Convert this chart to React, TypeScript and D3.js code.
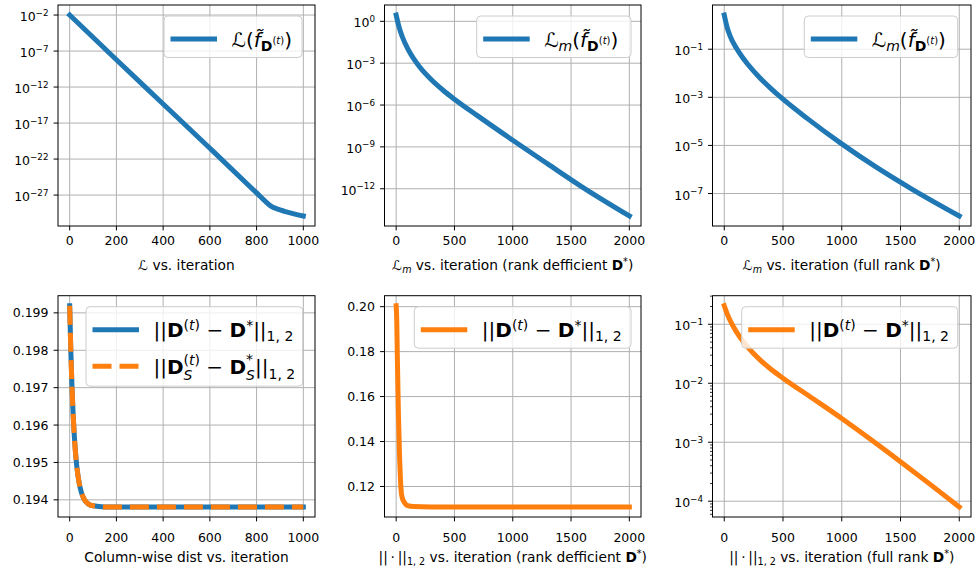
import React from 'react';
import * as d3 from 'd3';

const FONT = 'DejaVu Sans, sans-serif';
const BLUE = '#1f77b4';
const ORANGE = '#ff7f0e';

// ---------- DATA ----------
// Panel 1: L vs iteration
const p1Iter = [0, 200, 400, 600, 800, 840, 860, 870, 890, 920, 960, 1000];
const p1Loss = [1.0e-2, 6.3e-9, 4.5e-15, 3.16e-21, 2.0e-27, 1.12e-28, 3.16e-29, 2.0e-29, 1.12e-29, 5.6e-30, 2.5e-30, 1.26e-30];

// Panel 2: Lm vs iteration (rank deficient)
const p2Iter = [0, 25, 50, 100, 150, 200, 300, 400, 500, 700, 1000, 1300, 1600, 2000];
const p2Loss = [2.82, 0.38, 8.9e-2, 1.05e-2, 2.09e-3, 5.6e-4, 6.8e-5, 1.2e-5, 2.63e-6, 1.66e-7, 3.0e-9, 6.0e-11, 1.26e-12, 1.12e-14];

// Panel 3: Lm vs iteration (full rank)
const p3Iter = [0, 25, 50, 100, 150, 200, 300, 400, 500, 700, 1000, 1300, 1600, 2000];
const p3Loss = [2.63, 0.785, 0.351, 0.117, 4.95e-2, 2.37e-2, 6.7e-3, 2.26e-3, 8.4e-4, 1.4e-4, 1.16e-5, 1.19e-6, 1.5e-7, 1.17e-8];

// Panel 4: column-wise distance
const p4Iter = [0, 5, 10, 15, 20, 30, 40, 50, 60, 80, 100, 150, 1000];
const p4Dist = [0.19919, 0.19796, 0.197, 0.19626, 0.19569, 0.19492, 0.19447, 0.1942, 0.19404, 0.19389, 0.19384, 0.19381, 0.19381];
const p4DistS = [0.19919, 0.19796, 0.197, 0.19626, 0.19569, 0.19492, 0.19447, 0.1942, 0.19404, 0.19389, 0.19384, 0.19381, 0.19381];

// Panel 5: ||.||_{1,2} (rank deficient)
const p5Iter = [0, 5, 10, 15, 20, 30, 37, 45, 55, 66, 80, 100, 150, 300, 2000];
const p5Dist = [0.2004, 0.194, 0.178, 0.164, 0.151, 0.132, 0.123, 0.117, 0.1145, 0.1133, 0.1122, 0.1115, 0.1111, 0.1109, 0.1109];

// Panel 6: ||.||_{1,2} (full rank)
const p6Iter = [0, 25, 50, 100, 150, 200, 300, 400, 500, 750, 1000, 1250, 1500, 1750, 2000];
const p6Dist = [0.206, 0.150, 0.116, 7.66e-2, 5.48e-2, 4.11e-2, 2.54e-2, 1.71e-2, 1.22e-2, 5.57e-3, 2.53e-3, 1.105e-3, 4.69e-4, 1.95e-4, 8.0e-5];

// Tick values
const xTicks1000 = [0, 200, 400, 600, 800, 1000];
const xTicks2000 = [0, 500, 1000, 1500, 2000];
const p1YTicks = [-2, -7, -12, -17, -22, -27];
const p2YTicks = [0, -3, -6, -9, -12];
const p3YTicks = [-1, -3, -5, -7];
const p4YTicks = [0.194, 0.195, 0.196, 0.197, 0.198, 0.199];
const p5YTicks = [0.12, 0.14, 0.16, 0.18, 0.2];
const p6YTicks = [-1, -2, -3, -4];

// ---------- LAYOUT ----------
const COLS = [
  { x0: 58, x1: 315 },
  { x0: 384.5, x1: 641 },
  { x0: 712.5, x1: 971 },
];
const ROWS = [
  { y0: 5, y1: 226, tickBase: 244.5, labelBase: 270 },
  { y0: 295.7, y1: 517, tickBase: 541.5, labelBase: 561.5 },
];

type Seg = { t: string; size?: number; off?: number; b?: boolean; i?: boolean; dx?: number };

function Rich({ x, y, anchor, segs, size }: { x: number; y: number; anchor: string; segs: Seg[]; size: number }) {
  let prev = 0;
  return (
    <text x={x} y={y} textAnchor={anchor as any} fontFamily={FONT} fontSize={size} fill="#000" style={{ whiteSpace: 'pre' }}>
      {segs.map((s, k) => {
        const off = s.off ?? 0;
        const dy = off - prev;
        prev = off;
        return (
          <tspan key={k} dy={dy} dx={s.dx ?? 0} fontSize={s.size ?? size} fontWeight={s.b ? 'bold' : 'normal'} fontStyle={s.i ? 'italic' : 'normal'}>
            {s.t}
          </tspan>
        );
      })}
    </text>
  );
}

const LG = 20; // legend font
const LS = 14; // legend sub/sup
const LSS = 10; // second-level script

const legL: Seg[] = [
  { t: 'ℒ' }, { t: '(' }, { t: 'f\u0303', i: true },
  { t: 'D', b: true, size: LS, off: 4 }, { t: '(', size: LSS, off: -3 }, { t: 't', i: true, size: LSS, off: -3 }, { t: ')', size: LSS, off: -3 },
  { t: ')', off: 0 },
];
const legLm: Seg[] = [
  { t: 'ℒ' }, { t: 'm', i: true, size: LS, off: 4 }, { t: '(', off: 0 }, { t: 'f\u0303', i: true },
  { t: 'D', b: true, size: LS, off: 4 }, { t: '(', size: LSS, off: -3 }, { t: 't', i: true, size: LSS, off: -3 }, { t: ')', size: LSS, off: -3 },
  { t: ')', off: 0 },
];
const legD: Seg[] = [
  { t: '||' }, { t: 'D', b: true }, { t: '(', size: LS, off: -7 }, { t: 't', i: true, size: LS, off: -7 }, { t: ')', size: LS, off: -7 },
  { t: ' − ', off: 0 }, { t: 'D', b: true }, { t: '*', size: LS, off: -7 }, { t: '||', off: 0 }, { t: '1, 2', size: LS, off: 4 },
];
const legDS: Seg[] = [
  { t: '||' }, { t: 'D', b: true }, { t: 'S', i: true, size: LS, off: 6 },
  { t: '(', size: LS, off: -9, dx: -8.9 }, { t: 't', i: true, size: LS, off: -9 }, { t: ')', size: LS, off: -9 },
  { t: ' − ', off: 0 }, { t: 'D', b: true }, { t: 'S', i: true, size: LS, off: 6 }, { t: '*', size: LS, off: -10, dx: -8.9 },
  { t: '||', off: 0, dx: 1.9 }, { t: '1, 2', size: LS, off: 5 },
];

const XS = 13.75; // xlabel font
const XSS = 9.6;
const normSegs: Seg[] = [{ t: '||\u2009·\u2009||' }, { t: '1, 2', size: XSS, off: 3 }];
const xl1: Seg[] = [{ t: 'ℒ' }, { t: ' vs. iteration' }];
const xl2: Seg[] = [{ t: 'ℒ' }, { t: 'm', i: true, size: XSS, off: 3 }, { t: ' vs. iteration (rank defficient ', off: 0 }, { t: 'D', b: true }, { t: '*', size: XSS, off: -5 }, { t: ')', off: 0 }];
const xl3: Seg[] = [{ t: 'ℒ' }, { t: 'm', i: true, size: XSS, off: 3 }, { t: ' vs. iteration (full rank ', off: 0 }, { t: 'D', b: true }, { t: '*', size: XSS, off: -5 }, { t: ')', off: 0 }];
const xl4: Seg[] = [{ t: 'Column-wise dist vs. iteration' }];
const xl5: Seg[] = [...normSegs, { t: ' vs. iteration (rank defficient ', off: 0 }, { t: 'D', b: true }, { t: '*', size: XSS, off: -5 }, { t: ')', off: 0 }];
const xl6: Seg[] = [...normSegs, { t: ' vs. iteration (full rank ', off: 0 }, { t: 'D', b: true }, { t: '*', size: XSS, off: -5 }, { t: ')', off: 0 }];

type Series = { x: number[]; y: number[]; color: string; dash?: string };
type LegendEntry = { color: string; dash?: string; segs: Seg[] };
type PanelCfg = {
  col: number; row: number; xMax: number; xTicks: number[];
  log: boolean; yTicks: number[]; minor?: boolean; yDecimals?: number;
  series: Series[];
  legend: { left: number; width: number; entries: LegendEntry[] };
  xlabel: Seg[];
};

function marginDomain(vals: number[], log: boolean): [number, number] {
  const v = log ? vals.map((d) => Math.log10(d)) : vals;
  const lo = d3.min(v)!, hi = d3.max(v)!;
  const m = (hi - lo) * 0.05;
  return log ? [Math.pow(10, lo - m), Math.pow(10, hi + m)] : [lo - m, hi + m];
}

function Panel({ cfg }: { cfg: PanelCfg }) {
  const { x0, x1 } = COLS[cfg.col];
  const { y0, y1, tickBase, labelBase } = ROWS[cfg.row];
  const xs = d3.scaleLinear().domain([-cfg.xMax * 0.05, cfg.xMax * 1.05]).range([x0, x1]);
  const allY = cfg.series.flatMap((s) => s.y);
  const yd = marginDomain(allY, cfg.log);
  const ys: any = cfg.log ? d3.scaleLog().domain(yd).range([y1, y0]) : d3.scaleLinear().domain(yd).range([y1, y0]);
  const yTickVals = cfg.log ? cfg.yTicks.map((e) => Math.pow(10, e)) : cfg.yTicks;
  const minorVals: number[] = [];
  if (cfg.minor && cfg.log) {
    const lo = Math.floor(Math.log10(yd[0])), hi = Math.ceil(Math.log10(yd[1]));
    for (let e = lo; e <= hi; e++) for (let m = 2; m <= 9; m++) {
      const v = m * Math.pow(10, e);
      if (v >= yd[0] && v <= yd[1]) minorVals.push(v);
    }
  }
  const mk = (s: Series) =>
    d3.line<[number, number]>().x((d) => xs(d[0])).y((d) => ys(d[1])).curve(d3.curveMonotoneX)(s.x.map((v, k) => [v, s.y[k]] as [number, number]))!;
  const lg = cfg.legend;
  const lgTop = y0 + 11;
  const lgH = lg.entries.length === 1 ? 41.5 : 79.5;
  return (
    <g>
      {cfg.xTicks.map((t) => (
        <line key={'gx' + t} x1={xs(t)} x2={xs(t)} y1={y0} y2={y1} stroke="#b0b0b0" strokeWidth={1} />
      ))}
      {yTickVals.map((t, k) => (
        <line key={'gy' + k} x1={x0} x2={x1} y1={ys(t)} y2={ys(t)} stroke="#b0b0b0" strokeWidth={1} />
      ))}
      {cfg.series.map((s, k) => (
        <path key={'s' + k} d={mk(s)} fill="none" stroke={s.color} strokeWidth={5} strokeDasharray={s.dash} strokeLinecap={s.dash ? 'butt' : 'square'} strokeLinejoin="round" />
      ))}
      <rect x={x0} y={y0} width={x1 - x0} height={y1 - y0} fill="none" stroke="#000" strokeWidth={1} />
      {cfg.xTicks.map((t) => (
        <g key={'xt' + t}>
          <line x1={xs(t)} x2={xs(t)} y1={y1} y2={y1 + 4.4} stroke="#000" strokeWidth={1} />
          <text x={xs(t)} y={tickBase} textAnchor="middle" fontFamily={FONT} fontSize={12.5} fill="#000">{t}</text>
        </g>
      ))}
      {yTickVals.map((t, k) => (
        <g key={'yt' + k}>
          <line x1={x0 - 4.4} x2={x0} y1={ys(t)} y2={ys(t)} stroke="#000" strokeWidth={1} />
          {cfg.log ? (
            <Rich x={x0 - 9.5} y={ys(t) + 6} anchor="end" size={12.5}
              segs={[{ t: '10' }, { t: (cfg.yTicks[k] < 0 ? '−' : '') + Math.abs(cfg.yTicks[k]), size: 8.75, off: -5.5 }]} />
          ) : (
            <text x={x0 - 9.5} y={ys(t) + 4.5} textAnchor="end" fontFamily={FONT} fontSize={12.5} fill="#000">{t.toFixed(cfg.yDecimals ?? 2)}</text>
          )}
        </g>
      ))}
      {minorVals.map((t, k) => (
        <line key={'mt' + k} x1={x0 - 2.5} x2={x0} y1={ys(t)} y2={ys(t)} stroke="#000" strokeWidth={0.8} />
      ))}
      <Rich x={(x0 + x1) / 2} y={labelBase} anchor="middle" size={XS} segs={cfg.xlabel} />
      <rect x={lg.left} y={lgTop} width={lg.width} height={lgH} rx={4} fill="#fff" fillOpacity={0.8} stroke="#cccccc" strokeWidth={1} />
      {lg.entries.map((e, k) => {
        const hy = lgTop + 23 + k * 36.6;
        return (
          <g key={'le' + k}>
            <line x1={lg.left + 6.5} x2={lg.left + 53} y1={hy} y2={hy} stroke={e.color} strokeWidth={5} strokeDasharray={e.dash} />
            <Rich x={lg.left + 67.5} y={hy + 7.5} anchor="start" size={LG} segs={e.segs} />
          </g>
        );
      })}
    </g>
  );
}

const panels: PanelCfg[] = [
  {
    col: 0, row: 0, xMax: 1000, xTicks: xTicks1000, log: true, yTicks: p1YTicks,
    series: [{ x: p1Iter, y: p1Loss, color: BLUE }],
    legend: { left: 164, width: 138, entries: [{ color: BLUE, segs: legL }] }, xlabel: xl1,
  },
  {
    col: 1, row: 0, xMax: 2000, xTicks: xTicks2000, log: true, yTicks: p2YTicks,
    series: [{ x: p2Iter, y: p2Loss, color: BLUE }],
    legend: { left: 476.7, width: 154.3, entries: [{ color: BLUE, segs: legLm }] }, xlabel: xl2,
  },
  {
    col: 2, row: 0, xMax: 2000, xTicks: xTicks2000, log: true, yTicks: p3YTicks,
    series: [{ x: p3Iter, y: p3Loss, color: BLUE }],
    legend: { left: 804.3, width: 153.4, entries: [{ color: BLUE, segs: legLm }] }, xlabel: xl3,
  },
  {
    col: 0, row: 1, xMax: 1000, xTicks: xTicks1000, log: false, yTicks: p4YTicks, yDecimals: 3,
    series: [{ x: p4Iter, y: p4Dist, color: BLUE }, { x: p4Iter, y: p4DistS, color: ORANGE, dash: '19,8' }],
    legend: { left: 86, width: 216.7, entries: [{ color: BLUE, segs: legD }, { color: ORANGE, dash: '19,8', segs: legDS }] }, xlabel: xl4,
  },
  {
    col: 1, row: 1, xMax: 2000, xTicks: xTicks2000, log: false, yTicks: p5YTicks, yDecimals: 2,
    series: [{ x: p5Iter, y: p5Dist, color: ORANGE }],
    legend: { left: 414.3, width: 216.7, entries: [{ color: ORANGE, segs: legD }] }, xlabel: xl5,
  },
  {
    col: 2, row: 1, xMax: 2000, xTicks: xTicks2000, log: true, yTicks: p6YTicks, minor: true,
    series: [{ x: p6Iter, y: p6Dist, color: ORANGE }],
    legend: { left: 741.7, width: 216, entries: [{ color: ORANGE, segs: legD }] }, xlabel: xl6,
  },
];

export default function App() {
  return (
    <svg width={977} height={571} style={{ position: 'absolute', left: 0, top: 0, background: '#fff' }}>
      <rect x={0} y={0} width={977} height={571} fill="#fff" />
      {panels.map((p, k) => (
        <Panel key={k} cfg={p} />
      ))}
    </svg>
  );
}
